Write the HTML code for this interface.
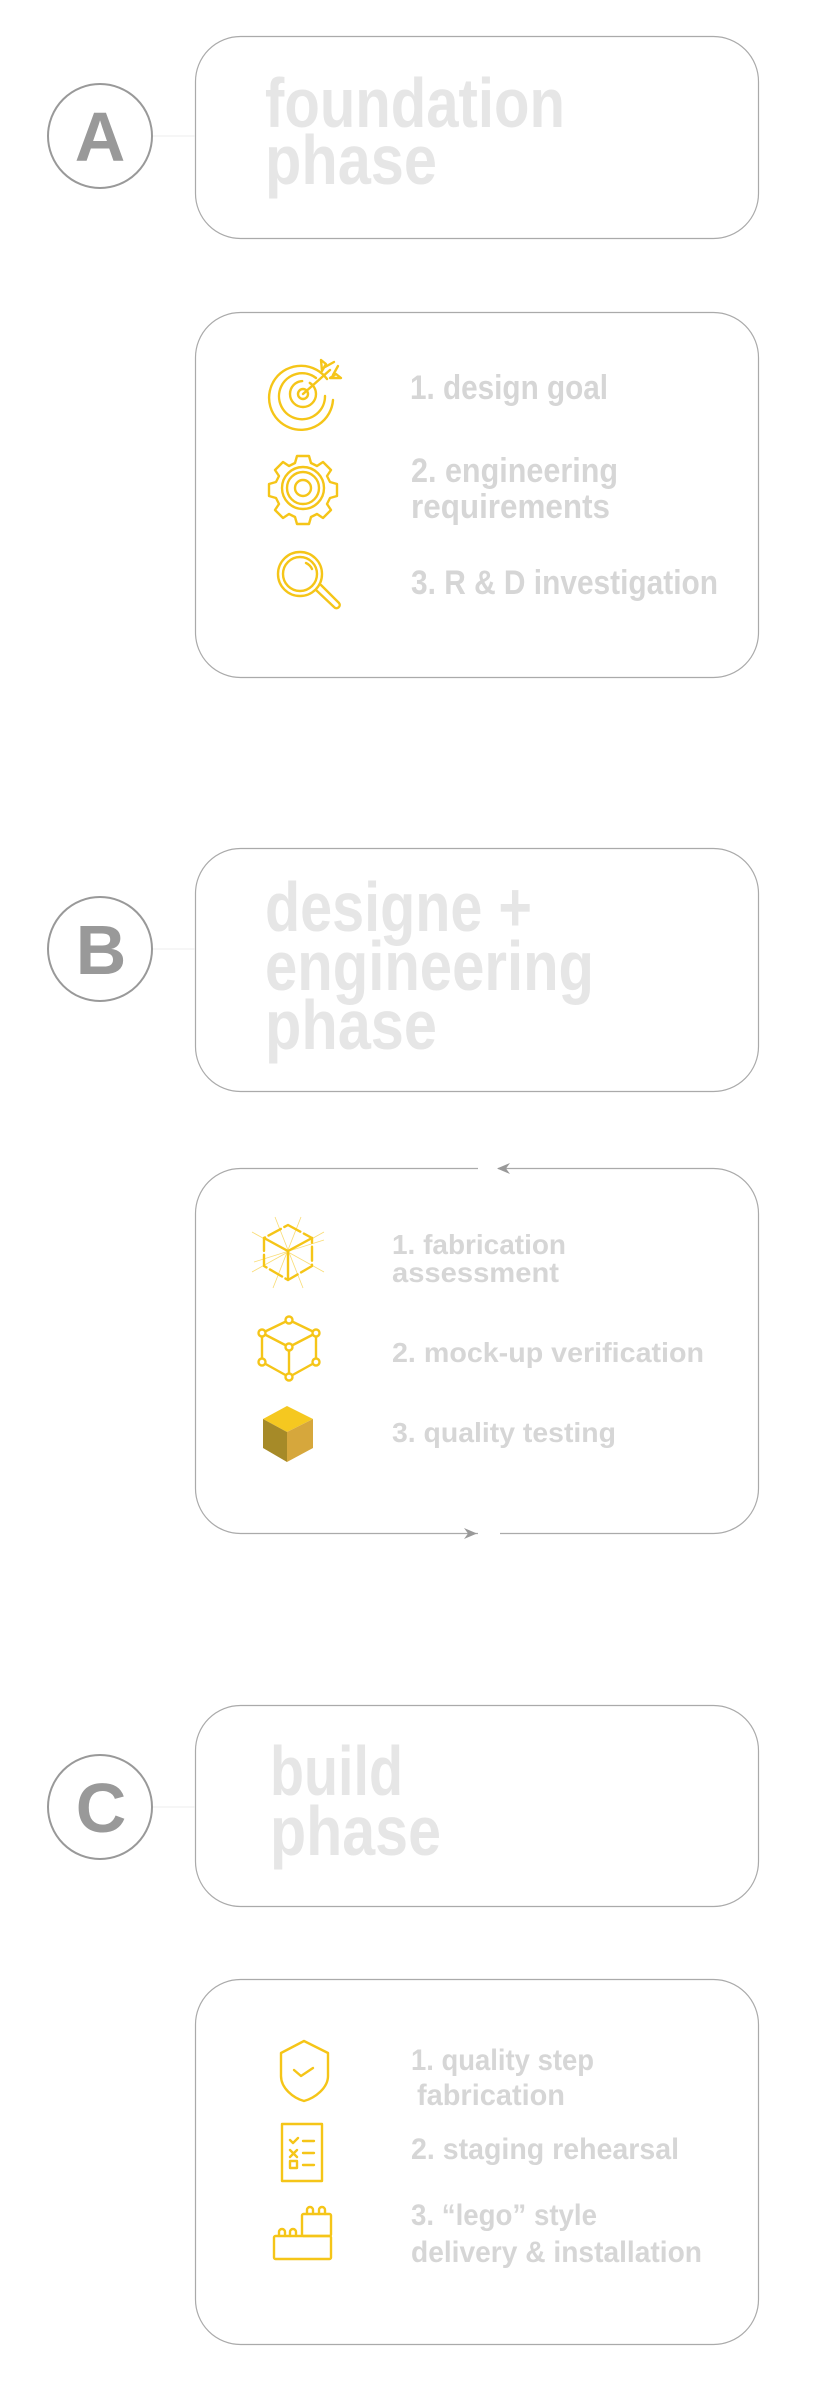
<!DOCTYPE html>
<html><head><meta charset="utf-8"><style>
html,body{margin:0;padding:0;background:#fff;}
svg{display:block;}
.t{font-family:"Liberation Sans",Arial,sans-serif;font-weight:bold;fill:#e6e6e6;font-size:70px;}
.i{font-family:"Liberation Sans",Arial,sans-serif;font-weight:bold;fill:#d6d6d6;}
.L{font-family:"Liberation Sans",Arial,sans-serif;font-weight:bold;fill:#999;font-size:70px;}
.y{fill:none;stroke:#f5c518;stroke-width:2.4;stroke-linecap:round;stroke-linejoin:round;}
</style></head><body>
<svg width="839" height="2386" viewBox="0 0 839 2386" xmlns="http://www.w3.org/2000/svg">
<g fill="none" stroke="#aaa" stroke-width="1.2">
<rect x="195.5" y="36.5" width="563" height="202" rx="45"/>
<rect x="195.5" y="312.5" width="563" height="365" rx="45"/>
<rect x="195.5" y="848.5" width="563" height="243" rx="45"/>
<rect x="195.5" y="1168.5" width="563" height="365" rx="45"/>
<rect x="195.5" y="1705.5" width="563" height="201" rx="45"/>
<rect x="195.5" y="1979.5" width="563" height="365" rx="45"/>
</g>
<!-- gaps and arrows on B2 -->
<rect x="478" y="1165" width="20" height="7" fill="#fff"/>
<rect x="478" y="1531" width="22" height="7" fill="#fff"/>
<polygon points="497,1168.5 510,1163 506,1168.5 510,1174" fill="#999"/>
<polygon points="477,1533.5 464,1528 468,1533.5 464,1539" fill="#999"/>
<!-- circles -->
<g fill="none" stroke="#999" stroke-width="2">
<circle cx="100" cy="136" r="52"/>
<circle cx="100" cy="949" r="52"/>
<circle cx="100" cy="1807" r="52"/>
</g>
<g stroke="#eee" stroke-width="1">
<line x1="153" y1="136" x2="195" y2="136"/>
<line x1="153" y1="949" x2="195" y2="949"/>
<line x1="153" y1="1807" x2="195" y2="1807"/>
</g>
<text class="L" x="100" y="161" text-anchor="middle">A</text>
<text class="L" x="101" y="974" text-anchor="middle">B</text>
<text class="L" x="101" y="1832" text-anchor="middle">C</text>
<!-- titles -->
<text class="t" x="265" y="127" textLength="300" lengthAdjust="spacingAndGlyphs">foundation</text>
<text class="t" x="265" y="184" textLength="172" lengthAdjust="spacingAndGlyphs">phase</text>
<text class="t" x="265" y="931" textLength="267" lengthAdjust="spacingAndGlyphs">designe +</text>
<text class="t" x="265" y="990" textLength="329" lengthAdjust="spacingAndGlyphs">engineering</text>
<text class="t" x="265" y="1049" textLength="172" lengthAdjust="spacingAndGlyphs">phase</text>
<text class="t" x="270" y="1795" textLength="133" lengthAdjust="spacingAndGlyphs">build</text>
<text class="t" x="270" y="1855" textLength="171" lengthAdjust="spacingAndGlyphs">phase</text>
<!-- A items -->
<g class="i" font-size="34">
<text x="410" y="399" textLength="198" lengthAdjust="spacingAndGlyphs">1. design goal</text>
<text x="411" y="482" textLength="207" lengthAdjust="spacingAndGlyphs">2. engineering</text>
<text x="411" y="518" textLength="199" lengthAdjust="spacingAndGlyphs">requirements</text>
<text x="411" y="594" textLength="307" lengthAdjust="spacingAndGlyphs">3. R &amp; D investigation</text>
</g>
<!-- B items -->
<g class="i" font-size="28">
<text x="392" y="1254" textLength="174" lengthAdjust="spacingAndGlyphs">1. fabrication</text>
<text x="392" y="1282" textLength="167" lengthAdjust="spacingAndGlyphs">assessment</text>
<text x="392" y="1362" textLength="312" lengthAdjust="spacingAndGlyphs">2. mock-up verification</text>
<text x="392" y="1442" textLength="224" lengthAdjust="spacingAndGlyphs">3. quality testing</text>
</g>
<!-- C items -->
<g class="i" font-size="30">
<text x="411" y="2070" textLength="183" lengthAdjust="spacingAndGlyphs">1. quality step</text>
<text x="417" y="2105" textLength="148" lengthAdjust="spacingAndGlyphs">fabrication</text>
<text x="411" y="2159" textLength="268" lengthAdjust="spacingAndGlyphs">2. staging rehearsal</text>
<text x="411" y="2225" textLength="186" lengthAdjust="spacingAndGlyphs">3. “lego” style</text>
<text x="411" y="2262" textLength="291" lengthAdjust="spacingAndGlyphs">delivery &amp; installation</text>
</g>
<!-- target icon -->
<g class="y">
<path d="M327,379 A32,32 0 1 0 333,400"/>
<path d="M316,378 A23,23 0 1 0 325,396"/>
<circle cx="303" cy="394" r="13" stroke-dasharray="60 8"/>
<circle cx="303" cy="394" r="5"/>
<line x1="303" y1="394" x2="330" y2="370"/>
<path d="M322,371 L321,360 L326,364 Z M330,378 L341,378 L336,374 Z"/>
<path d="M325,367 L334,362 M333,375 L338,366"/>
</g>
<!-- gear icon -->
<g class="y">
<path d="M297,456 h12 l2,7 l6,3 l6,-4 l8,8 l-4,6 l3,6 l7,2 v12 l-7,2 l-3,6 l4,6 l-8,8 l-6,-4 l-6,3 l-2,7 h-12 l-2,-7 l-6,-3 l-6,4 l-8,-8 l4,-6 l-3,-6 l-7,-2 v-12 l7,-2 l3,-6 l-4,-6 l8,-8 l6,4 l6,-3 z"/>
<circle cx="303" cy="488" r="21"/>
<circle cx="303" cy="488" r="16"/>
<circle cx="303" cy="488" r="8"/>
</g>
<!-- magnifier -->
<g class="y">
<circle cx="300" cy="574" r="22"/>
<circle cx="300" cy="574" r="17"/>
<path d="M306,563 a12,12 0 0 1 6,6"/>
<path d="M316,590 L334,607 a3,3 0 0 0 5,-4 L321,585"/>
</g>
<!-- B icon 1 wireframe cube -->
<g stroke="#f5c518" stroke-width="0.8" opacity="0.6" fill="none">
<line x1="252" y1="1232" x2="324" y2="1272"/>
<line x1="324" y1="1232" x2="252" y2="1272"/>
<line x1="275" y1="1217" x2="303" y2="1288"/>
<line x1="301" y1="1217" x2="273" y2="1288"/>
<line x1="254" y1="1262" x2="324" y2="1240"/>
</g>
<g class="y">
<path d="M288,1225 L312,1238 L312,1266 L288,1280 L264,1266 L264,1238 Z" stroke-dasharray="14 4"/>
<path d="M264,1238 L288,1251 L312,1238 M288,1251 L288,1280"/>
</g>
<!-- B icon 2 cube nodes -->
<g class="y">
<path d="M289,1320 L316,1333 L316,1362 L289,1377 L262,1362 L262,1333 Z"/>
<path d="M262,1333 L289,1347 L316,1333 M289,1347 L289,1377"/>
<g fill="#fff">
<circle cx="289" cy="1320" r="3.5"/><circle cx="316" cy="1333" r="3.5"/><circle cx="316" cy="1362" r="3.5"/>
<circle cx="289" cy="1377" r="3.5"/><circle cx="262" cy="1362" r="3.5"/><circle cx="262" cy="1333" r="3.5"/>
<circle cx="289" cy="1347" r="3.5"/>
</g>
</g>
<!-- B icon 3 solid cube -->
<polygon points="263,1419 287,1406 313,1419 287,1432" fill="#f5c820"/>
<polygon points="263,1419 287,1432 287,1462 263,1448" fill="#a68a28"/>
<polygon points="287,1432 313,1419 313,1448 287,1462" fill="#d6a73c"/>
<!-- shield -->
<g class="y">
<path d="M304,2041 L328,2053 V2076 C328,2088 315,2098 304,2101 C293,2098 281,2088 281,2076 V2053 Z"/>
<path d="M294,2070 L301,2076 L313,2068"/>
</g>
<!-- checklist -->
<g class="y" stroke-width="2">
<rect x="282" y="2124" width="40" height="57"/>
<path d="M290,2140 l3,3 l5,-5 M303,2141 h11 M290,2150 l7,7 M297,2150 l-7,7 M303,2153 h11 M303,2165 h11"/>
<rect x="290" y="2161" width="7" height="7"/>
</g>
<!-- lego -->
<g class="y" stroke-width="2">
<rect x="274" y="2236" width="57" height="23" rx="1.5"/>
<rect x="302" y="2214" width="29" height="22" rx="1.5"/>
<path d="M279,2236 v-4 a3,3 0 0 1 6,0 v4 M290,2236 v-4 a3,3 0 0 1 6,0 v4 M307,2214 v-4 a3,3 0 0 1 6,0 v4 M319,2214 v-4 a3,3 0 0 1 6,0 v4"/>
</g>
</svg>
</body></html>
